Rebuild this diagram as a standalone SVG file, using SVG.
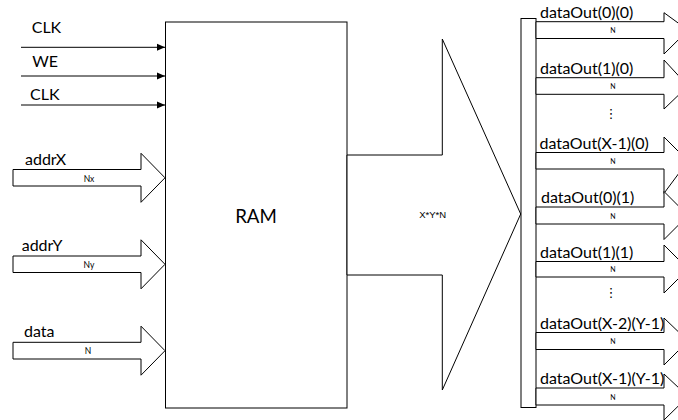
<svg xmlns="http://www.w3.org/2000/svg" width="678" height="420" viewBox="0 0 678 420">
<style>
.ln{stroke:#000;stroke-width:1;fill:none}
.sh{stroke:#000;stroke-width:1;fill:#fff}
.lb{font-family:Lato,"Liberation Sans",sans-serif;font-size:16px;fill:#000}
.sm{font-family:Lato,"Liberation Sans",sans-serif;font-size:8.5px;fill:#000;text-anchor:middle;dominant-baseline:central}
.tn{font-family:Lato,"Liberation Sans",sans-serif;font-size:7px;fill:#000;text-anchor:middle;dominant-baseline:central}
.dt{font-family:"DejaVu Sans",sans-serif;font-size:13px;fill:#000;text-anchor:middle;dominant-baseline:central}
</style>
<defs>
<marker id="ah" markerWidth="8" markerHeight="8" refX="8" refY="4" orient="auto" markerUnits="userSpaceOnUse">
<path d="M0,0.5 L8,4 L0,7.5 Z" fill="#000"/>
</marker>
</defs>
<rect width="678" height="420" fill="#fff"/>

<g id="connectors">
<line class="ln" x1="21" y1="47.3" x2="165" y2="47.3" marker-end="url(#ah)"/>
<line class="ln" x1="21" y1="76" x2="165" y2="76" marker-end="url(#ah)"/>
<line class="ln" x1="21" y1="105" x2="165" y2="105" marker-end="url(#ah)"/>
</g>
<g id="labels-in">
<text class="lb" x="31.7" y="33.3">CLK</text>
<text class="lb" x="32.3" y="67">WE</text>
<text class="lb" x="30" y="100">CLK</text>
</g>

<g id="ram">
<rect class="sh" x="165.5" y="22" width="181.5" height="386"/>
<text x="256" y="222.5" text-anchor="middle" style="font-family:Lato,'Liberation Sans',sans-serif;font-size:18.7px">RAM</text>
</g>

<g id="addrX">
<polygon class="sh" points="13,169.5 141,169.5 141,153.3 165,177.8 141,202.3 141,186 13,186"/>
<text class="lb" x="25" y="165">addrX</text>
<text class="sm" x="89" y="178.5">Nx</text>
</g>
<g id="addrY">
<polygon class="sh" points="13,256 141,256 141,239.8 165,264.3 141,288.8 141,272.5 13,272.5"/>
<text class="lb" x="21.7" y="251">addrY</text>
<text class="sm" x="89" y="265">Ny</text>
</g>
<g id="data">
<polygon class="sh" points="13,342.3 141,342.3 141,326.2 165,350.7 141,375.2 141,359 13,359"/>
<text class="lb" x="24" y="337">data</text>
<text class="sm" x="88" y="351">N</text>
</g>

<g id="bus">
<polygon class="sh" points="347,155 442.3,155 442.3,39 520.7,214 442.3,390 442.3,275 347,275"/>
<text x="432.7" y="214" text-anchor="middle" dominant-baseline="central" style="font-family:'Liberation Sans',sans-serif;font-size:9.5px">X*Y*N</text>
</g>

<g id="busbar">
<rect class="sh" x="521" y="18.5" width="15" height="389"/>
</g>

<g id="out00">
<polygon class="sh" points="536,21.7 664,21.7 664,12.7 688,30.2 664,54 664,38.5 536,38.5"/>
<text class="lb" x="540" y="17.5">dataOut(0)(0)</text>
<text class="tn" x="613" y="30.2">N</text>
</g>
<g id="out10">
<polygon class="sh" points="536,77.7 664,77.7 664,60 688,86 664,109 664,94.3 536,94.3"/>
<text class="lb" x="540" y="73.5">dataOut(1)(0)</text>
<text class="tn" x="613" y="86">N</text>
</g>
<text id="dots1" class="dt" x="611" y="113">⋮</text>
<g id="outX10">
<polygon class="sh" points="536,152.5 664,152.5 664,137 688,161 664,193.3 664,169 536,169"/>
<text class="lb" x="539.5" y="148.5">dataOut(X-1)(0)</text>
<text class="tn" x="613" y="160.8">N</text>
</g>
<g id="out01">
<polygon class="sh" points="536,207 664,207 664,191.5 688,215.5 664,239.5 664,224 536,224"/>
<text class="lb" x="541" y="203">dataOut(0)(1)</text>
<text class="tn" x="613" y="215.5">N</text>
</g>
<g id="out11">
<polygon class="sh" points="536,261.5 664,261.5 664,245 688,269 664,293 664,277 536,277"/>
<text class="lb" x="540" y="257.5">dataOut(1)(1)</text>
<text class="tn" x="613" y="269.3">N</text>
</g>
<text id="dots2" class="dt" x="611" y="292">⋮</text>
<g id="outX2Y1">
<polygon class="sh" points="536,332.5 664,332.5 664,318 688,341 664,365 664,349.5 536,349.5"/>
<text class="lb" x="540" y="328.5">dataOut(X-2)(Y-1)</text>
<text class="tn" x="613" y="341">N</text>
</g>
<g id="outX1Y1">
<polygon class="sh" points="536,388 664,388 664,374 688,396.5 664,420 664,405 536,405"/>
<text class="lb" x="540" y="384">dataOut(X-1)(Y-1)</text>
<text class="tn" x="613" y="396.5">N</text>
</g>
</svg>
